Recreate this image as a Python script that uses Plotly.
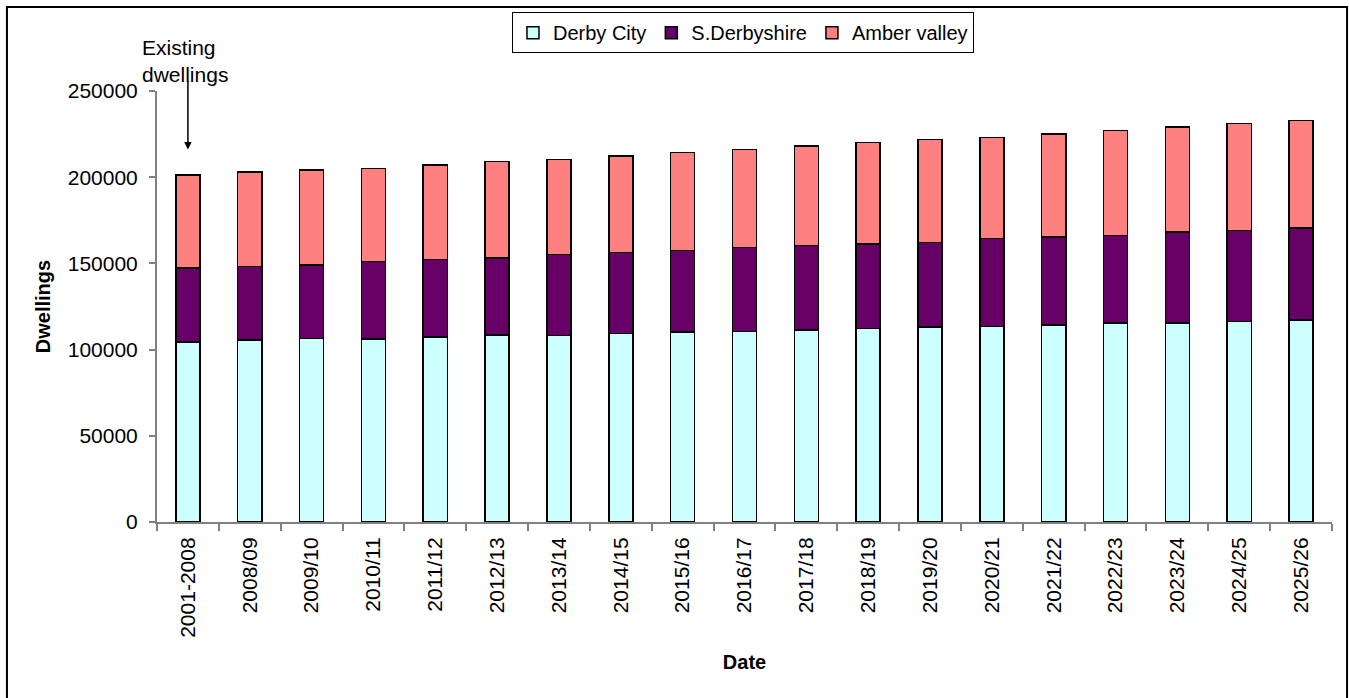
import plotly.graph_objects as go

# Projected dwelling stock by district (stacked)
periods = ["2001-2008", "2008/09", "2009/10", "2010/11", "2011/12", "2012/13",
           "2013/14", "2014/15", "2015/16", "2016/17", "2017/18", "2018/19",
           "2019/20", "2020/21", "2021/22", "2022/23", "2023/24", "2024/25",
           "2025/26"]

derby_city = [104500, 105500, 106400, 106200, 107200, 108400, 108100, 109300,
              110300, 110500, 111300, 112200, 113200, 113400, 114400, 115400,
              115400, 116300, 117300]

s_derbyshire = [42800, 42800, 42800, 45000, 45000, 44700, 47000, 46900, 47100,
                48800, 49000, 49100, 49000, 51000, 51000, 50900, 52900, 52900,
                53100]

amber_valley = [53900, 54800, 54900, 53900, 54800, 55900, 55200, 56000, 56800,
                56800, 57700, 58700, 59800, 58700, 59600, 60900, 60800, 61900,
                62600]

y_ticks = [0, 50000, 100000, 150000, 200000, 250000]

FONT = "Arial, 'Liberation Sans', sans-serif"
outline = dict(color="black", width=1.5)

fig = go.Figure()
fig.add_trace(go.Bar(name="Derby City", x=periods, y=derby_city,
                     marker=dict(color="#CCFFFF", line=outline)))
fig.add_trace(go.Bar(name="S.Derbyshire", x=periods, y=s_derbyshire,
                     marker=dict(color="#660066", line=outline)))
fig.add_trace(go.Bar(name="Amber valley", x=periods, y=amber_valley,
                     marker=dict(color="#FF8080", line=outline)))

fig.update_layout(
    barmode="stack",
    bargap=0.61,
    width=1349, height=698,
    margin=dict(l=157, r=17, t=91, b=176, pad=0, autoexpand=False),
    paper_bgcolor="white",
    plot_bgcolor="white",
    font=dict(family=FONT, size=20, color="black"),
    showlegend=True,
    legend=dict(
        orientation="h",
        x=0.4987, xanchor="center",
        y=1.183, yanchor="top",
        bordercolor="black", borderwidth=1,
        bgcolor="white",
        font=dict(family=FONT, size=20, color="black"),
        itemwidth=30,
        traceorder="normal",
    ),
    xaxis=dict(
        type="category",
        range=[-0.5, len(periods) - 0.5],
        automargin=False,
        tickangle=-90,
        showline=True, linecolor="#808080", linewidth=2,
        ticks="outside", tickson="boundaries", ticklen=7,
        tickcolor="#808080", tickwidth=2,
        ticklabelstandoff=5,
        showgrid=False,
        tickfont=dict(family=FONT, size=21, color="black"),
        title=dict(text="<b>Date</b>", standoff=18,
                   font=dict(family=FONT, size=20, color="black")),
    ),
    yaxis=dict(
        automargin=False,
        range=[0, 250000],
        tickvals=y_ticks,
        ticktext=[str(v) for v in y_ticks],
        showline=True, linecolor="#808080", linewidth=2,
        ticks="outside", ticklen=6, tickcolor="#808080", tickwidth=2,
        ticklabelstandoff=7,
        showgrid=False, zeroline=False,
        tickfont=dict(family=FONT, size=21, color="black"),
        title=dict(text="<b>Dwellings</b>", standoff=12,
                   font=dict(family=FONT, size=20, color="black")),
    ),
)

# Outer chart frame
fig.add_shape(type="rect", xref="paper", yref="paper",
              x0=-0.1277, x1=1.0128, y0=-0.45, y1=1.195,
              line=dict(color="black", width=2), fillcolor="rgba(0,0,0,0)",
              layer="below")

# Label and arrow pointing at the existing stock bar
fig.add_annotation(x=-0.0145, xref="paper", y=1.07, yref="paper",
                   text="Existing<br>dwellings", align="left",
                   showarrow=False, xanchor="left", yanchor="middle",
                   font=dict(family=FONT, size=21, color="black"))
fig.add_annotation(x=periods[0], y=216100, text="", showarrow=True,
                   ax=0, ay=-70, arrowhead=2, arrowsize=1, arrowwidth=1.5,
                   arrowcolor="black")

fig.write_html("out.html")
